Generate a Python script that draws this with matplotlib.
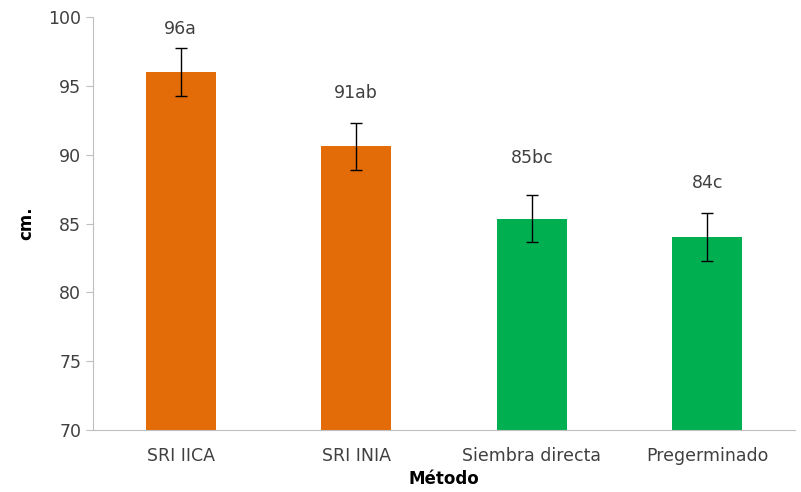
import matplotlib
matplotlib.use("Agg")
from matplotlib import pyplot as plt
import numpy as np

metodos = ["SRI IICA", "SRI INIA", "Siembra directa", "Pregerminado"]
altura = [96.0, 90.6, 85.35, 84.0]
error = [1.75, 1.7, 1.7, 1.75]
letras = ["96a", "91ab", "85bc", "84c"]
label_y = [99.1, 94.5, 89.75, 87.95]
colores = ["#E36C09", "#E36C09", "#00B050", "#00B050"]

fig = plt.figure(figsize=(8.01, 4.92), dpi=100)
ax = fig.add_axes([0.1161, 0.126, 0.8765, 0.8394])

x = np.arange(len(metodos))
ax.bar(x, altura, width=0.4, color=colores, yerr=error,
       error_kw=dict(ecolor="black", elinewidth=1, capsize=4.5, capthick=1))

for xi, ly, t in zip(x, label_y, letras):
    ax.text(xi, ly, t, ha="center", va="center", fontsize=12.5, color="#404040")

ax.set_xlim(-0.5, len(metodos) - 0.5)
ax.set_ylim(70, 100)
ax.set_yticks(np.arange(70, 101, 5))
ax.set_xticks(x)
ax.set_xticklabels(metodos)

for side in ["top", "right"]:
    ax.spines[side].set_visible(False)
ax.spines["left"].set_color("#BFBFBF")
ax.spines["bottom"].set_color("#BFBFBF")
ax.tick_params(axis="y", colors="#BFBFBF", labelcolor="#404040", labelsize=12.5, length=5)
ax.tick_params(axis="x", length=0, labelcolor="#404040", labelsize=12.5, pad=12)

ax.set_ylabel("cm.", fontsize=12, fontweight="bold", labelpad=9)
ax.set_xlabel("Método", fontsize=12, fontweight="bold", labelpad=4)

plt.savefig("out.png", dpi=100)
